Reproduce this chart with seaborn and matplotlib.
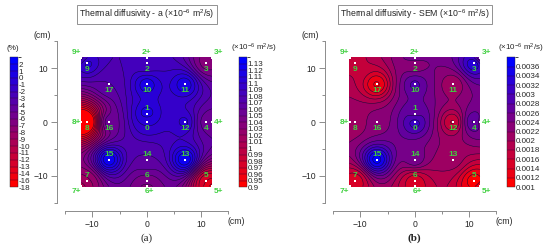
import numpy as np
import matplotlib
matplotlib.use('Agg')
import matplotlib.pyplot as plt
from matplotlib.cm import ScalarMappable
from matplotlib.colors import BoundaryNorm, ListedColormap
import seaborn as sns

W, H = 550, 249

# measurement points (cm)
pt_names = ['0', '1', '2', '3', '4', '5', '6', '7', '8', '9', '10', '11', '12', '13', '14', '15', '16', '17']
pt_x = [0, 0, 0, 11, 11, 11, 0, -11, -11, -11, 0, 7, 7, 7, 0, -7, -7, -7]
pt_y = [0, 1.5, 11, 11, 0, -11, -11, -11, 0, 11, 7, 7, 0, -7, -7, -7, 0, 7]
edge_names = ['2+', '3+', '4+', '5+', '6+', '7+', '8+', '9+']
edge_x = [0, 12, 12, 12, 0, -12, -12, -12]
edge_y = [12, 12, 0, -12, -12, -12, 0, 12]

# values, same order as above
a_pts = [1.10, 1.12, 1.085, 1.035, 1.055, 0.97, 1.05, 1.02, 0.92, 1.11, 1.12, 1.12, 1.105, 1.135, 1.07, 1.135, 1.06, 1.07]
a_edge = [1.08, 1.03, 1.05, 0.95, 1.03, 1.00, 0.90, 1.07]
sem_pts = [.0032, .0027, .0021, .0036, .0030, .0010, .0014, .0014, .0021, .0018, .0029, .0020, .0015, .0021, .0026, .0038, .0023, .0011]
sem_edge = [.0027, .0024, .0024, .0013, .0015, .0015, .0020, .0016]

# colour bar levels, bottom to top
a_levels = [0.9, 0.95, 0.96, 0.97, 0.98, 0.99, 1, 1.01, 1.02, 1.03, 1.04, 1.05, 1.06, 1.07, 1.08, 1.09, 1.1, 1.11, 1.12, 1.13, 1.14]
a_labels = ['0.9', '0.95', '0.96', '0.97', '0.98', '0.99', '1', '1.01', '1.02', '1.03', '1.04', '1.05', '1.06', '1.07', '1.08', '1.09', '1.1', '1.11', '1.12', '1.13']
sem_levels = [.001, .0012, .0014, .0016, .0018, .002, .0022, .0024, .0026, .0028, .003, .0032, .0034, .0036, .0038]
sem_labels = ['0.001', '0.0012', '0.0014', '0.0016', '0.0018', '0.002', '0.0022', '0.0024', '0.0026', '0.0028', '0.003', '0.0032', '0.0034', '0.0036']
pct_levels = [-18, -16, -14, -13, -12, -11, -10, -9, -8, -7, -6, -5, -4, -3, -2, -1, 0, 1, 2, 3]
pct_labels = ['-18', '-16', '-14', '-13', '-12', '-11', '-10', '-9', '-8', '-7', '-6', '-5', '-4', '-3', '-2', '-1', '0', '1', '2']

sns.set_style('white')
plt.rcParams['font.family'] = ['Liberation Sans', 'DejaVu Sans']
plt.rcParams['mathtext.default'] = 'regular'

GREEN = '#3fd03f'
UNIT = '(×10$^{-6}$ m$^{2}$/s)'
fig = plt.figure(figsize=(W / 100, H / 100), dpi=100)


def box(x0, y0, x1, y1):
    # pixel box -> figure rect
    return [x0 / W, 1 - y1 / H, (x1 - x0) / W, (y1 - y0) / H]


def ftext(x, y, s, **kw):
    kw.setdefault('ha', 'center')
    kw.setdefault('va', 'center')
    kw.setdefault('fontsize', 6.2)
    fig.text(x / W, 1 - y / H, s, **kw)


def surface(x, y, z, gx, gy, base):
    # distance weighted map of the measured values, no overshoot between points
    dg2 = (gx[..., None] - x) ** 2 + (gy[..., None] - y) ** 2
    w = 1 / (dg2 + 1.0) ** 1.3
    bg = 0.012
    return (w @ z + bg * base) / (w.sum(axis=-1) + bg)


def colour_bar(x0, levels, labels, head):
    n = len(levels) - 1
    cols = sns.blend_palette(['#ff0000', '#0000ff'], n)
    sm = ScalarMappable(norm=BoundaryNorm(levels, n), cmap=ListedColormap(cols))
    cax = fig.add_axes(box(x0, 57.5, x0 + 8, 187))
    cb = fig.colorbar(sm, cax=cax, spacing='uniform', ticks=levels[:-1], drawedges=True)
    cb.ax.set_yticklabels(labels, fontsize=5.8)
    cb.ax.tick_params(length=0, pad=0.6)
    cb.outline.set_linewidth(0.3)
    cb.dividers.set_color('#300030')
    cb.dividers.set_linewidth(0.3)
    ftext(x0 + 4 + head[1], 48, head[0], fontsize=5.8)


def panel(left, vals, edges, levels, labels, base, title, title_box, bar_x, letter, weight):
    ax = fig.add_axes(box(left - 81.5, 41.5, left + 81.5, 202.5))
    ax.set_xlim(-15, 15)
    ax.set_ylim(-15, 15)
    ax.patch.set_alpha(0)

    x = np.array(pt_x + edge_x, dtype=float)
    y = np.array(pt_y + edge_y, dtype=float)
    z = np.array(vals + edges, dtype=float)
    gx, gy = np.meshgrid(np.linspace(-12, 12, 201), np.linspace(-12, 12, 201))
    zf = np.clip(surface(x, y, z, gx, gy, base), levels[0], levels[-1] - 1e-9)

    cols = sns.blend_palette(['#ff0000', '#0000ff'], len(levels) - 1)
    ax.contourf(gx, gy, zf, levels=levels, colors=cols)
    ax.contour(gx, gy, zf, levels=levels, colors='#1a0a2a', linewidths=0.35)

    sns.scatterplot(x=x, y=y, ax=ax, color='white', marker='s', s=2.5, linewidth=0, legend=False, zorder=5)

    for name, px, py in zip(pt_names, pt_x, pt_y):
        off = -1.2 if py > -5 else 1.0
        if name == '1':
            off = 1.1
        ax.text(px, py + off, name, color=GREEN, fontsize=6, ha='center', va='center', fontweight='bold', zorder=6)
    for name, px, py in zip(edge_names, edge_x, edge_y):
        dx = -0.9 if px < 0 else (1.25 if px > 0 else (0.5 if py < 0 else 0))
        dy = np.sign(py) * 0.9
        ax.text(px + dx, py + dy, name, color=GREEN, fontsize=6, ha='center', va='center', fontweight='bold', zorder=6)

    sns.despine(ax=ax, top=True, right=True, offset=6)
    for s in ['left', 'bottom']:
        ax.spines[s].set_color('#8c8c8c')
        ax.spines[s].set_linewidth(0.7)
    ax.set_xticks([-10, 0, 10])
    ax.set_yticks([-10, 0, 10])
    ax.set_xticks([-15, -5, 5, 15], minor=True)
    ax.set_yticks([-15, -5, 5, 15], minor=True)
    ax.tick_params(which='major', length=4.5, width=0.7, color='#8c8c8c', labelsize=6.2, pad=2, left=True, bottom=True)
    ax.tick_params(which='minor', length=2.2, width=0.7, color='#8c8c8c', left=True, bottom=True)

    ftext(left - 104, 35, '(cm)', fontsize=6.2)
    ftext(left + 90, 221, '(cm)', fontsize=6.2)

    x0, x1 = title_box
    ftext((x0 + x1) / 2, 14.5, title, fontsize=6.3,
          bbox=dict(boxstyle='square,pad=0.25', fc='white', ec='#808080', lw=0.6))
    colour_bar(bar_x, levels, labels, (UNIT, 10.5))
    ftext(left, 238, letter, fontsize=8, family='Liberation Serif', fontweight=weight)


colour_bar(10, pct_levels, pct_labels, ('(%)', -1))
panel(146.7, a_pts, a_edge, a_levels, a_labels, 1.08, 'Thermal diffusivity - a ' + UNIT, (79, 215), 239, '(a)', 'normal')
panel(414.7, sem_pts, sem_edge, sem_levels, sem_labels, .0023, 'Thermal diffusivity - SEM ' + UNIT, (339, 491), 506.5, '(b)', 'bold')

fig.savefig('out.png', dpi=100)
